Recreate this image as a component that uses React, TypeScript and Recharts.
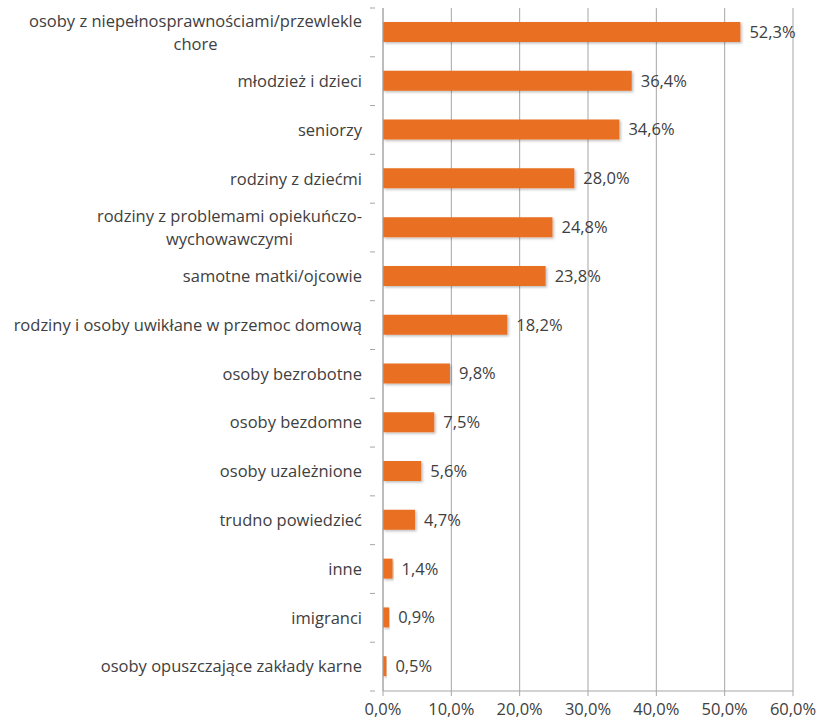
import React from "react";
import { BarChart, Bar, XAxis, YAxis, CartesianGrid, LabelList } from "recharts";

const categories = [
  "osoby z niepełnosprawnościami/przewlekle|chore",
  "młodzież i dzieci",
  "seniorzy",
  "rodziny z dziećmi",
  "rodziny z problemami opiekuńczo-|wychowawczymi",
  "samotne matki/ojcowie",
  "rodziny i osoby uwikłane w przemoc domową",
  "osoby bezrobotne",
  "osoby bezdomne",
  "osoby uzależnione",
  "trudno powiedzieć",
  "inne",
  "imigranci",
  "osoby opuszczające zakłady karne",
];
const values = [52.3, 36.4, 34.6, 28.0, 24.8, 23.8, 18.2, 9.8, 7.5, 5.6, 4.7, 1.4, 0.9, 0.5];
const xTicks = [0, 10, 20, 30, 40, 50, 60];

const data = categories.map((name, i) => ({ name, value: values[i] }));

const W = 818;
const H = 724;
const M = { top: 8, right: 25, bottom: 0, left: 0 };
const Y_W = 383;
const X_H = 33;
const FONT = "'Open Sans', sans-serif";
const TEXT = "#404040";
const GRID = "#a6a6a6";
const BAND = (H - M.top - M.bottom - X_H) / categories.length;
const FS = 16.5;

let ctx: CanvasRenderingContext2D | null = null;
function measure(s: string, size: number) {
  if (!ctx) ctx = document.createElement("canvas").getContext("2d");
  if (!ctx) return s.length * size * 0.55;
  ctx.font = `${size}px 'Open Sans'`;
  return ctx.measureText(s).width;
}

const fmt = (v: number) => v.toFixed(1).replace(".", ",") + "%";

const CatTick = ({ x, y, payload, index }: any) => {
  const lines = String(payload.value).split("|");
  const maxW = Math.max(...lines.map((l) => measure(l, FS)));
  const right = x - 13;
  const cx = right - maxW / 2;
  const lh = 23;
  const y0 = y - ((lines.length - 1) * lh) / 2;
  return (
    <g>
      <line x1={x - 5} x2={x} y1={y + BAND / 2} y2={y + BAND / 2} stroke={GRID} />
      {index === 0 && <line x1={x - 5} x2={x} y1={y - BAND / 2} y2={y - BAND / 2} stroke={GRID} />}
      <text fontFamily={FONT} fontSize={FS} fill={TEXT} textAnchor="middle">
        {lines.map((l, i) => (
          <tspan key={i} x={cx} y={y0 + i * lh} dy="0.35em">
            {l}
          </tspan>
        ))}
      </text>
    </g>
  );
};

const NumTick = ({ x, y, payload }: any) => (
  <g>
    <line x1={x} x2={x} y1={y - 8} y2={y - 3} stroke={GRID} />
    <text x={x} y={y + 16} fontFamily={FONT} fontSize={FS} fill={TEXT} textAnchor="middle">
      {fmt(payload.value)}
    </text>
  </g>
);

export default function App() {
  return (
    <div style={{ position: "absolute", left: 0, top: 0, width: W, height: H, background: "#fff" }}>
      <BarChart width={W} height={H} data={data} layout="vertical" margin={M} barCategoryGap={0}>
        <defs>
          <filter id="barShadow" x="-5%" y="-20%" width="115%" height="160%">
            <feDropShadow dx="1.5" dy="1.5" stdDeviation="1" floodColor="#000" floodOpacity="0.25" />
          </filter>
        </defs>
        <CartesianGrid horizontal={false} stroke={GRID} strokeWidth={1} />
        <XAxis
          type="number"
          domain={[0, 60]}
          ticks={xTicks}
          interval={0}
          height={X_H}
          axisLine={{ stroke: GRID }}
          tickLine={false}
          tick={<NumTick />}
        />
        <YAxis
          type="category"
          dataKey="name"
          width={Y_W}
          interval={0}
          axisLine={{ stroke: GRID }}
          tickLine={false}
          tick={<CatTick />}
        />
        <Bar
          dataKey="value"
          fill="#E97024"
          barSize={20}
          isAnimationActive={false}
          style={{ filter: "url(#barShadow)" }}
        >
          <LabelList
            dataKey="value"
            position="right"
            offset={9}
            formatter={(v: any) => fmt(Number(v))}
            style={{ fontFamily: FONT, fontSize: FS, fill: TEXT }}
          />
        </Bar>
      </BarChart>
    </div>
  );
}
